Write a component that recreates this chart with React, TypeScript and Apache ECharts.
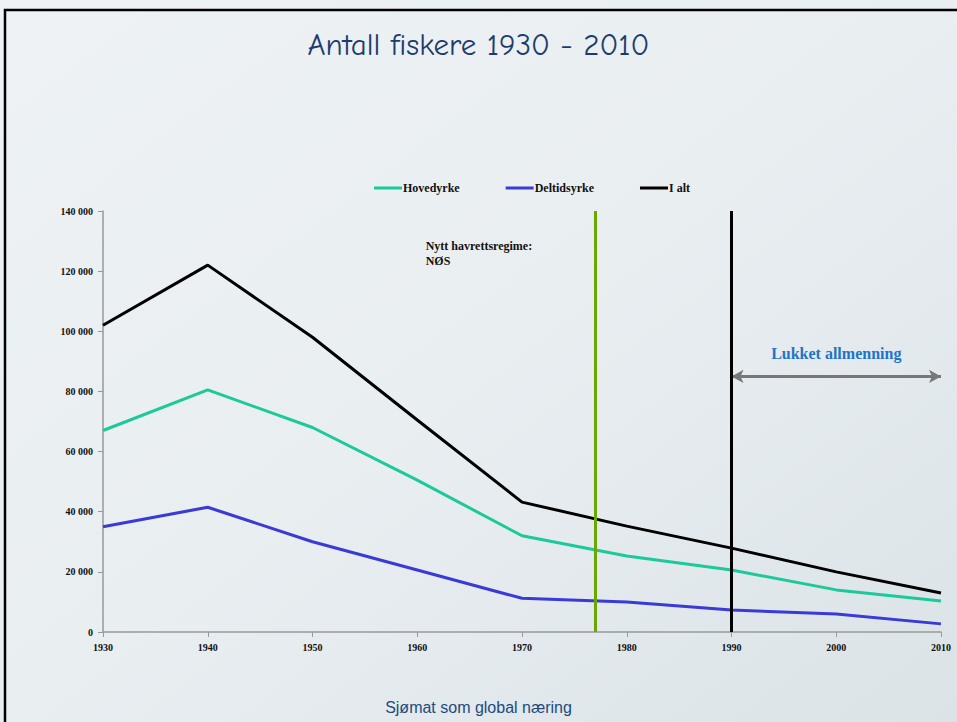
import React, { useEffect, useRef } from "react";
import * as echarts from "echarts";

const years = [1930, 1940, 1950, 1960, 1970, 1980, 1990, 2000, 2010];
const hovedyrke = [67000, 80500, 68000, 50500, 32000, 25300, 20600, 14000, 10300];
const deltidsyrke = [35000, 41500, 30000, 20600, 11200, 10000, 7300, 6000, 2700];
const iAlt = [102000, 122000, 98000, 70500, 43200, 35200, 27900, 20000, 13000];
const seriesNames = ["Hovedyrke", "Deltidsyrke", "I alt"];
const seriesColors = ["#1cc99a", "#3a3ad6", "#000000"];
const regimeYear = 1977;
const closedYear = 1990;
const endYear = 2010;

const fmt = (v: number) => {
  if (v === 0) return "0";
  const s = String(v);
  return s.slice(0, s.length - 3) + " " + s.slice(s.length - 3);
};

export default function App() {
  const ref = useRef<HTMLDivElement>(null);
  useEffect(() => {
    if (!ref.current) return;
    const chart = echarts.init(ref.current, undefined, { renderer: "svg" });
    const pairs = (arr: number[]) => arr.map((v, i) => [years[i], v]);
    const serifBold = { fontFamily: "Liberation Serif", fontWeight: "bold" as const, fontSize: 10, color: "#111" };
    chart.setOption({
      animation: false,
      backgroundColor: {
        type: "linear", x: 0, y: 0, x2: 1, y2: 1,
        colorStops: [
          { offset: 0, color: "#eef2f5" },
          { offset: 0.5, color: "#e9eef1" },
          { offset: 1, color: "#dbe3e7" },
        ],
      },
      title: [
        {
          text: "Antall fiskere 1930 - 2010",
          left: "center",
          top: 24,
          textStyle: { fontFamily: "Comic Sans MS, Comic Neue, DejaVu Sans", fontWeight: "normal", fontSize: 31, color: "#1d3c6e" },
        },
        {
          text: "Sjømat som global næring",
          left: "center",
          top: 694,
          textStyle: { fontFamily: "Liberation Sans", fontWeight: "normal", fontSize: 16, color: "#1f4a7c" },
        },
      ],
      graphic: [
        { type: "rect", shape: { x: 5, y: 10, width: 960, height: 720 }, style: { fill: "none", stroke: "#000", lineWidth: 2.5 }, silent: true },
      ],
      legend: {
        left: 369,
        top: 177,
        icon: "rect",
        itemWidth: 28,
        itemHeight: 3,
        itemGap: 46,
        textStyle: { ...serifBold, fontSize: 12, padding: [0, 0, 0, -4] },
        data: seriesNames,
      },
      grid: { left: 103, right: 16, top: 211, bottom: 90 },
      xAxis: {
        type: "value",
        min: 1930,
        max: 2010,
        interval: 10,
        splitLine: { show: false },
        axisLine: { lineStyle: { color: "#999", width: 1.5 } },
        axisTick: { show: true, length: 5, lineStyle: { color: "#999" } },
        axisLabel: { ...serifBold, margin: 10, formatter: (v: number) => String(v) },
      },
      yAxis: {
        type: "value",
        min: 0,
        max: 140000,
        interval: 20000,
        splitLine: { show: false },
        axisLine: { show: true, lineStyle: { color: "#999", width: 1.5 } },
        axisTick: { show: true, length: 5, lineStyle: { color: "#999" } },
        axisLabel: { ...serifBold, margin: 10, formatter: fmt },
      },
      series: [
        {
          name: seriesNames[0], type: "line", data: pairs(hovedyrke), showSymbol: false,
          lineStyle: { color: seriesColors[0], width: 3 }, itemStyle: { color: seriesColors[0] },
          markLine: {
            silent: true, symbol: "none", label: { show: false },
            lineStyle: { color: "#6aa800", width: 3, type: "solid" },
            data: [{ xAxis: regimeYear }],
          },
          markPoint: {
            silent: true, symbol: "circle", symbolSize: 0,
            data: [{ coord: [1960.8, 126000], value: "x" }],
            label: {
              show: true, position: "right", distance: 0,
              formatter: "Nytt havrettsregime:\nNØS",
              ...serifBold, fontSize: 12, lineHeight: 15, align: "left",
            },
          },
        },
        {
          name: seriesNames[1], type: "line", data: pairs(deltidsyrke), showSymbol: false,
          lineStyle: { color: seriesColors[1], width: 3 }, itemStyle: { color: seriesColors[1] },
          markLine: {
            silent: true, symbol: ["arrow", "arrow"], symbolSize: [10, 12],
            label: { show: false },
            lineStyle: { color: "#777", width: 3, type: "solid" },
            data: [[{ coord: [closedYear, 85000] }, { coord: [endYear, 85000] }]],
          },
          markPoint: {
            silent: true, symbol: "circle", symbolSize: 0,
            data: [{ coord: [2000, 92500], value: "x" }],
            label: {
              show: true, position: "inside",
              formatter: "Lukket allmenning",
              fontFamily: "Liberation Serif", fontWeight: "bold", fontSize: 16, color: "#1f74c8",
            },
          },
        },
        {
          name: seriesNames[2], type: "line", data: pairs(iAlt), showSymbol: false,
          lineStyle: { color: seriesColors[2], width: 3 }, itemStyle: { color: seriesColors[2] },
          markLine: {
            silent: true, symbol: "none", label: { show: false },
            lineStyle: { color: "#000", width: 3, type: "solid" },
            data: [{ xAxis: closedYear }],
          },
        },
      ],
    });
    return () => chart.dispose();
  }, []);
  return <div ref={ref} style={{ position: "absolute", left: 0, top: 0, width: 957, height: 722 }} />;
}
